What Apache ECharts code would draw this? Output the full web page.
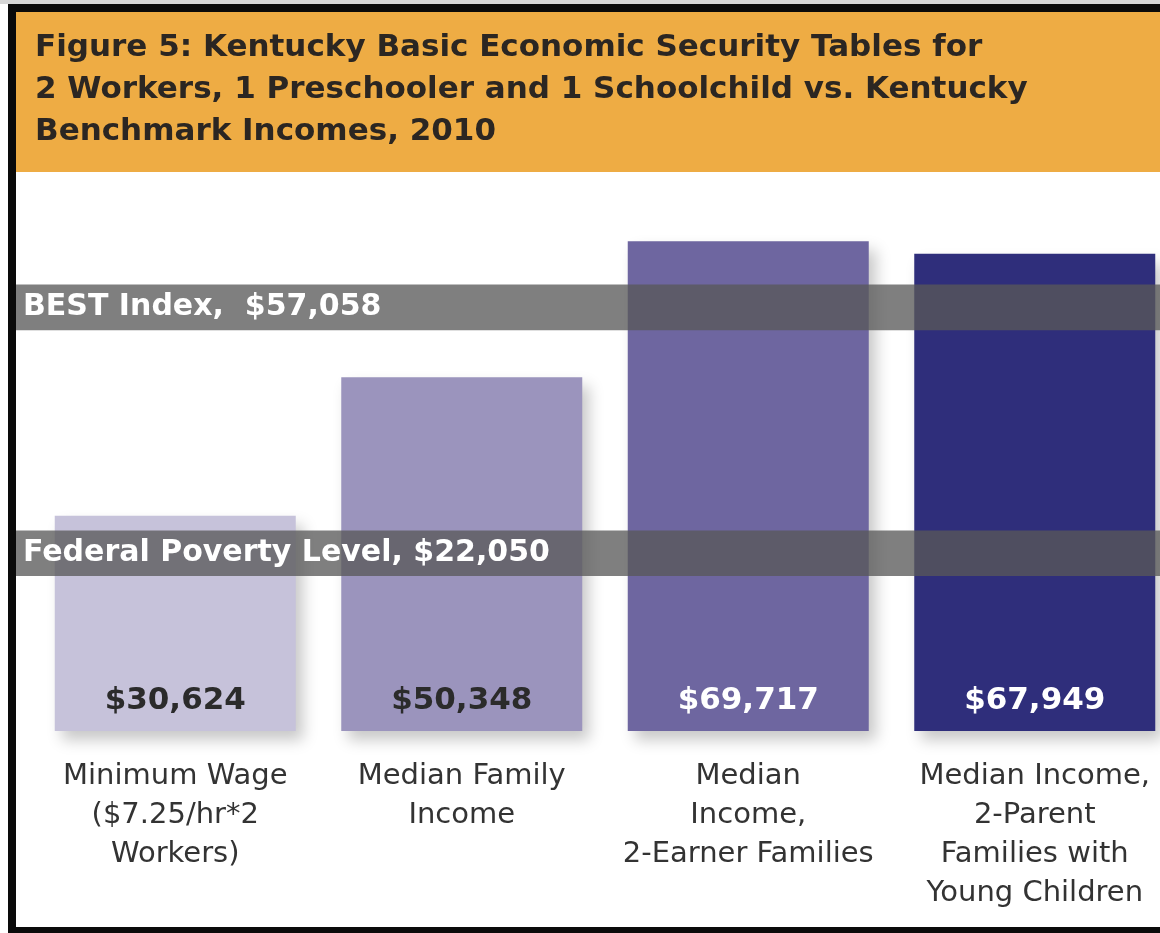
<!DOCTYPE html>
<html>
<head>
<meta charset="utf-8">
<title>Kentucky BEST vs Benchmark Incomes</title>
<script src="https://cdn.jsdelivr.net/npm/echarts@6/dist/echarts.min.js"></script>
<style>
  html, body { margin: 0; padding: 0; background: #fff; }
  #chart { width: 1160px; height: 933px; }
</style>
</head>
<body>
<div id="chart"></div>
<script>
// data
var categories = [
  'Minimum Wage\n($7.25/hr*2\nWorkers)',
  'Median Family\nIncome',
  'Median\nIncome,\n2-Earner Families',
  'Median Income,\n2-Parent\nFamilies with\nYoung Children'
];
var incomes = [30624, 50348, 69717, 67949];
var benchmarkNames = ['BEST Index,  ', 'Federal Poverty Level, '];
var benchmarkValues = [57058, 22050];

// styles
var barColors = ['#c6c2da', '#9b94bd', '#6e66a0', '#2f2e7b'];
var labelColors = ['#2b2b2b', '#2b2b2b', '#ffffff', '#ffffff'];
var bandThickness = 6500; // band height, in axis units
var font = '"DejaVu Sans", sans-serif';

function money(v){
	return '$' + v.toLocaleString('en-US');
}

var chart = echarts.init(document.getElementById('chart'));

var barData = incomes.map(function(v, i){
	return {
		value: v,
		itemStyle: { color: barColors[i] },
		label: { color: labelColors[i] }
	};
});

var bands = benchmarkValues.map(function(v, i){
	return [
		{ yAxis: v + bandThickness, name: benchmarkNames[i] + money(v) },
		{ yAxis: v }
	];
});

var option = {
	animation: false,
	title: {
		text: 'Figure 5: Kentucky Basic Economic Security Tables for\n2 Workers, 1 Preschooler and 1 Schoolchild vs. Kentucky\nBenchmark Incomes, 2010',
		left: 30,
		top: 22,
		textStyle: {
			fontFamily: font,
			fontSize: 31,
			lineHeight: 42,
			fontWeight: 'bold',
			color: '#2b2622'
		}
	},
	graphic: [
		{ type: 'rect', z: -10, shape: { x: 0, y: 0, width: 1160, height: 4 }, style: { fill: '#d6d6d6' } },
		{ type: 'rect', z: -10, shape: { x: 8, y: 4, width: 1152, height: 929 }, style: { fill: '#0a0a0a' } },
		{ type: 'rect', z: -9, shape: { x: 16, y: 12, width: 1144, height: 915 }, style: { fill: '#ffffff' } },
		{ type: 'rect', z: -8, shape: { x: 16, y: 12, width: 1144, height: 160 }, style: { fill: '#eeac44' } }
	],
	grid: [
		{ left: 32, width: 1146, top: 169, bottom: 202, outerBoundsMode: 'none' },
		{ left: 16, right: 0, top: 169, bottom: 202, outerBoundsMode: 'none' }
	],
	xAxis: [
		{
			type: 'category',
			gridIndex: 0,
			data: categories,
			axisLine: { show: false },
			axisTick: { show: false },
			axisLabel: {
				margin: 26,
				interval: 0,
				fontFamily: font,
				fontSize: 29,
				lineHeight: 39,
				color: '#333333'
			}
		},
		{ type: 'category', gridIndex: 1, data: [''], show: false }
	],
	yAxis: [
		{ type: 'value', gridIndex: 0, min: 0, max: 80000, show: false },
		{ type: 'value', gridIndex: 1, min: 0, max: 80000, show: false }
	],
	series: [
		{
			type: 'bar',
			xAxisIndex: 0,
			yAxisIndex: 0,
			barWidth: 241,
			z: 2,
			data: barData,
			itemStyle: {
				shadowBlur: 14,
				shadowOffsetX: 7,
				shadowOffsetY: 9,
				shadowColor: 'rgba(0,0,0,0.22)'
			},
			label: {
				show: true,
				position: 'insideBottom',
				distance: 15,
				fontFamily: font,
				fontSize: 31,
				fontWeight: 'bold',
				formatter: function(p){ return money(p.value); }
			}
		},
		{
			type: 'line',
			xAxisIndex: 1,
			yAxisIndex: 1,
			data: [],
			z: 10,
			markArea: {
				silent: true,
				z: 10,
				itemStyle: { color: 'rgba(89,89,89,0.77)' },
				label: {
					show: true,
					position: 'insideLeft',
					distance: 7,
					color: '#ffffff',
					fontFamily: font,
					fontSize: 30,
					fontWeight: 'bold'
				},
				data: bands
			}
		}
	]
};

chart.setOption(option);
</script>
</body>
</html>
